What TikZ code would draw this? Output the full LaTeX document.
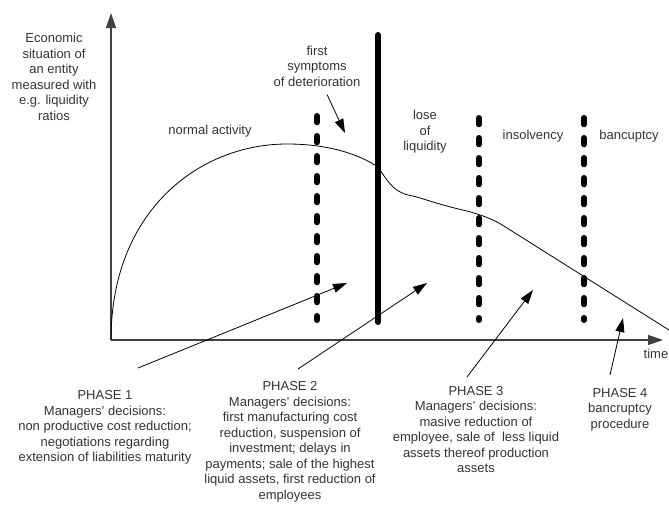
\documentclass[tikz,border=0pt]{standalone}
\usepackage{fontspec}
\setmainfont{Liberation Sans}
\usetikzlibrary{arrows.meta}

\begin{document}
\begin{tikzpicture}[x=1pt, y=-1pt,
  every node/.style={font=\fontsize{13}{15.5}\selectfont, text=black!80, align=center, inner sep=0pt},
  axis/.style={-{Triangle[length=15pt,width=10pt]}, line width=1.2pt, black!75},
  phaseline/.style={line width=6pt, line cap=round, dash pattern=on 6.3pt off 13.7pt},
  crisisline/.style={line width=6pt, line cap=round},
  pointer/.style={-{Triangle[length=14pt,width=9pt]}, line width=0.8pt},
  trend/.style={line width=0.8pt}]
\useasboundingbox (0,0) rectangle (669,507);

% axes
\coordinate (origin) at (111,340);
\coordinate (ytop) at (111,13);
\coordinate (xend) at (663,340);
\draw[axis] (origin) -- (ytop);
\draw[axis] (origin) -- (xend);

% phase borders
\draw[phaseline] (317,116) -- (317,320);
\draw[crisisline] (378,35) -- (378,322);
\draw[phaseline] (479,118) -- (479,320);
\draw[phaseline] (584,118) -- (584,320);

% economic situation curve
\draw[trend] (origin) .. controls (111,210) and (200,144) .. (287,144)
  .. controls (330,144) and (360,155) .. (378,167)
  .. controls (390,185) and (395,193) .. (413,196)
  .. controls (425,199) and (440,205) .. (467,211)
  .. controls (485,216) and (495,220) .. (507,228) -- (669,330);

% labels
\node (ylabel) at (54,77) {Economic\\situation of\\an entity\\measured with\\e.g. liquidity\\ratios};
\node (xlabel) at (656,354) {time};
\node (normal) at (210,131) {normal activity};
\node (symptoms) at (317,66) {first\\symptoms\\of deterioration};
\node (lose) at (425,132) {lose\\of\\liquidity};
\node (insolvency) at (533,136) {insolvency};
\node (bancuptcy) at (629,136) {bancuptcy};

\node (phase1) at (105,427.5) {PHASE 1\\Managers' decisions:\\non productive cost reduction;\\negotiations regarding\\extension of liabilities maturity};
\node (phase2) at (290,442) {PHASE 2\\Managers' decisions:\\first manufacturing cost\\reduction, suspension of\\investment; delays in\\payments; sale of the highest\\liquid assets, first reduction of\\employees};
\node (phase3) at (476,429.5) {PHASE 3\\Managers' decisions:\\masive reduction of\\employee, sale of\ \ less liquid\\assets thereof production\\assets};
\node (phase4) at (620,409.5) {PHASE 4\\bancruptcy\\procedure};

% pointers
\coordinate (symtip) at (345,133);
\coordinate (p1tail) at (138,368);
\coordinate (p1tip) at (347,283);
\coordinate (p2tail) at (298,369);
\coordinate (p2tip) at (427,283);
\coordinate (p3tail) at (467,377);
\coordinate (p3tip) at (533,290);
\coordinate (p4tail) at (610,375);
\coordinate (p4tip) at (623,318);
\draw[pointer] (symptoms.south) ++(10,8) -- (symtip);
\draw[pointer] (p1tail) -- (p1tip);
\draw[pointer] (p2tail) -- (p2tip);
\draw[pointer] (p3tail) -- (p3tip);
\draw[pointer] (p4tail) -- (p4tip);
\end{tikzpicture}
\end{document}
